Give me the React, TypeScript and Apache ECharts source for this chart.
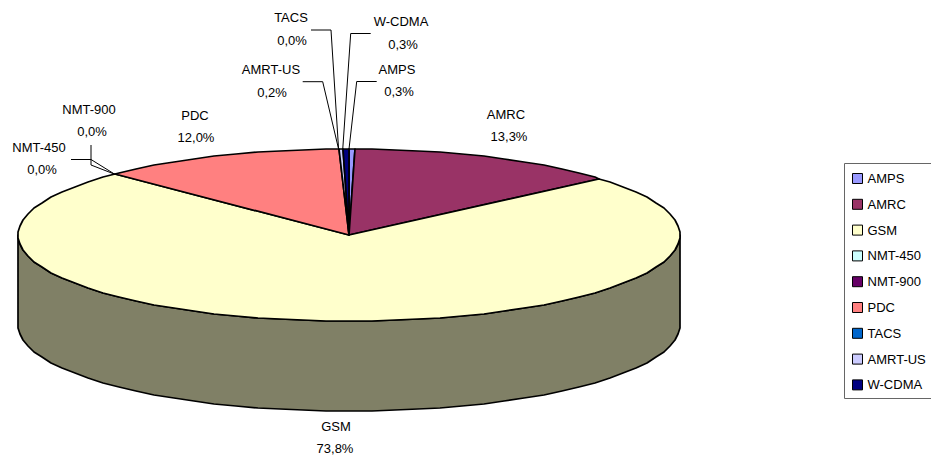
import React, { useEffect, useRef } from "react";
import * as echarts from "echarts";

const systems = ["AMPS", "AMRC", "GSM", "NMT-450", "NMT-900", "PDC", "TACS", "AMRT-US", "W-CDMA"];
const shares = [0.3, 13.3, 73.8, 0.0, 0.0, 12.0, 0.0, 0.2, 0.3];
const fills = ["#9999FF", "#993366", "#FFFFCC", "#CCFFFF", "#660066", "#FF8080", "#0066CC", "#CCCCFF", "#000080"];

// Disc projection: centre, radii and wall height in pixels.
const DISC = { cx: 349, cy: 235, rx: 331, ry: 86, depth: 90, stepDeg: 4 };
const FONT = '13px "Liberation Sans", Arial, sans-serif';

type Place = { name: [number, number]; value: [number, number]; leader?: [number, number][] };

// Callout placement per slice; each leader runs on to the rim at the slice's leading edge.
const callouts: Record<string, Place> = {
  AMPS: { name: [397, 69], value: [399, 91], leader: [[376.7, 81.5], [356.7, 81.5]] },
  AMRC: { name: [506, 114], value: [509, 136] },
  GSM: { name: [336, 426], value: [335, 448] },
  "NMT-450": { name: [39, 147], value: [42, 169], leader: [[71, 159.5], [91, 159.5]] },
  "NMT-900": { name: [89, 109], value: [92, 131.5], leader: [[91, 145], [91, 165]] },
  PDC: { name: [195, 115], value: [196, 137] },
  TACS: { name: [291, 17], value: [292, 40], leader: [[311, 30], [331, 30]] },
  "AMRT-US": { name: [271, 69], value: [272, 92], leader: [[302.7, 81.7], [322.7, 81.7]] },
  "W-CDMA": { name: [401, 21], value: [403, 44], leader: [[370.7, 33.5], [350.7, 33.5]] },
};

const total = shares.reduce((a, b) => a + b, 0);
const startDeg = (i: number) => (shares.slice(0, i).reduce((a, b) => a + b, 0) / total) * 360;

function rim(deg: number, drop = 0): [number, number] {
  const t = (deg * Math.PI) / 180;
  return [DISC.cx + DISC.rx * Math.sin(t), DISC.cy - DISC.ry * Math.cos(t) + drop];
}

// Rim points between two angles; snapping to whole pixels gives the stepped, plotted edge.
function arcPoints(a: number, b: number, drop = 0): [number, number][] {
  const pts: [number, number][] = [rim(a, drop)];
  let d = (Math.floor(a / DISC.stepDeg) + 1) * DISC.stepDeg;
  for (; d < b; d += DISC.stepDeg) pts.push(rim(d, drop));
  pts.push(rim(b, drop));
  return pts.map(([x, y]) => [Math.round(x), Math.round(y)] as [number, number]);
}

const outline = { stroke: "#000", lineWidth: 1.7, lineJoin: "round" as const };

function drawSlice(index: number) {
  return (_params: unknown, api: any) => {
    const share = api.value(0) as number;
    const from = startDeg(index);
    const to = from + (share / total) * 360;
    const name = systems[index];
    const place = callouts[name];
    const children: any[] = [];

    if (share > 0) {
      const a = Math.max(from, 90);
      const b = Math.min(to, 270);
      if (b > a) {
        const front = arcPoints(a, b);
        const back = arcPoints(a, b, DISC.depth).reverse();
        children.push({
          type: "polygon",
          shape: { points: [...front, ...back] },
          style: { fill: "#808066", ...outline },
        });
      }
      children.push({
        type: "polygon",
        shape: { points: [[DISC.cx, DISC.cy], ...arcPoints(from, to)] },
        style: { fill: fills[index], ...outline },
      });
    }

    if (place.leader) {
      children.push({
        type: "polyline",
        shape: { points: [...place.leader, rim(from)] },
        style: { stroke: "#000", lineWidth: 1, fill: "none" },
      });
    }
    const label = `${share.toFixed(1).replace(".", ",")}%`;
    for (const [text, pos] of [
      [name, place.name],
      [label, place.value],
    ] as [string, [number, number]][]) {
      children.push({
        type: "text",
        style: { text, x: pos[0], y: pos[1], font: FONT, fill: "#000", align: "center", verticalAlign: "middle" },
      });
    }
    return { type: "group", children };
  };
}

export default function App() {
  const ref = useRef<HTMLDivElement>(null);
  useEffect(() => {
    const chart = echarts.init(ref.current!, undefined, { renderer: "svg" });
    chart.setOption({
      animation: false,
      backgroundColor: "#fff",
      legend: {
        data: systems,
        orient: "vertical",
        left: 852,
        top: 172,
        padding: 0,
        icon: "rect",
        itemWidth: 10,
        itemHeight: 10,
        itemGap: 12.8,
        selectedMode: false,
        itemStyle: { borderColor: "#000", borderWidth: 1 },
        textStyle: { color: "#000", fontFamily: '"Liberation Sans", Arial, sans-serif', fontSize: 13 },
      },
      graphic: [
        {
          type: "rect",
          z: -1,
          shape: { x: 844.5, y: 163.5, width: 120, height: 235 },
          style: { fill: "#fff", stroke: "#666", lineWidth: 1 },
        },
      ],
      series: systems.map((name, i) => ({
        type: "custom",
        name,
        coordinateSystem: "none",
        silent: true,
        clip: false,
        itemStyle: { color: fills[i] },
        data: [[shares[i]]],
        dimensions: ["share"],
        renderItem: drawSlice(i),
      })),
    });
    return () => chart.dispose();
  }, []);
  return <div ref={ref} style={{ position: "fixed", left: 0, top: 0, width: 931, height: 459 }} />;
}
